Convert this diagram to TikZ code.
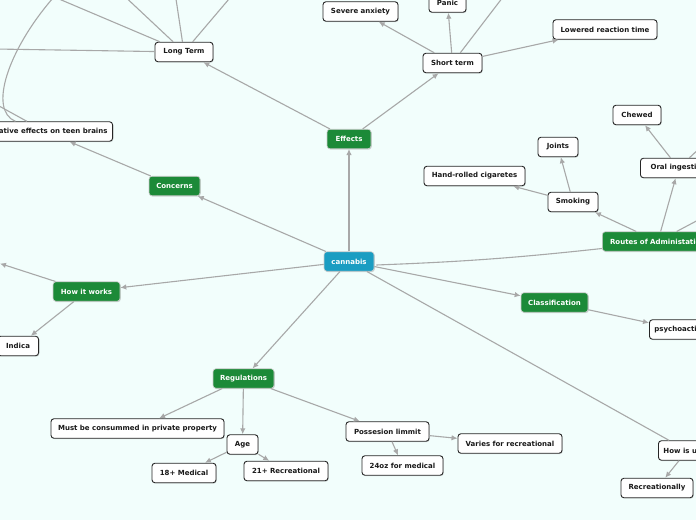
\documentclass[tikz,border=0pt]{standalone}
\usepackage{fontspec}
\setmainfont{DejaVu Sans}
\usetikzlibrary{arrows.meta,shadows,calc}
\definecolor{bg}{HTML}{F2FEFC}
\definecolor{mmgreen}{HTML}{1C8A38}
\definecolor{mmteal}{HTML}{1A9DC2}
\definecolor{edgegray}{HTML}{A8A8A8}
\begin{document}
\begin{tikzpicture}[x=1pt,y=-1pt,
 base/.style={rounded corners=3pt, minimum height=19.5pt, inner xsep=5pt, inner ysep=0pt,
   font=\bfseries\fontsize{7}{8}\selectfont,
   drop shadow={shadow xshift=0.8pt, shadow yshift=-0.9pt, opacity=0.3}},
 leaf/.style={base, draw=black!85, line width=0.9pt, fill=white, text=black!90},
 topic/.style={base, draw=white!80!black, line width=0.6pt, fill=mmgreen, text=white},
 rootnode/.style={base, draw=white!80!black, line width=0.6pt, fill=mmteal, text=white},
 conn/.style={draw=edgegray, line width=1.1pt},
 arr/.style={conn, -{Latex[length=6pt,width=5.5pt]}},
]
\fill[bg] (0,0) rectangle (696,520);
\clip (0,0) rectangle (696,520);

% root and main topics
\node[rootnode, minimum width=50pt] (cannabis) at (349,261.5) {cannabis};
\node[topic, minimum width=44pt] (effects) at (349,139) {Effects};
\node[topic, minimum width=51pt] (concerns) at (174.5,186) {Concerns};
\node[topic, minimum width=67pt] (howworks) at (86.5,291.5) {How it works};
\node[topic, minimum width=61pt] (regs) at (243.5,378.5) {Regulations};
\node[topic, minimum width=67pt] (classif) at (554.5,302.5) {Classification};
\node[topic, anchor=west, minimum width=111pt] (routes) at (602,241.5) {Routes of Administation};

% effects
\node[leaf, minimum width=59pt] (shortterm) at (452.5,63) {Short term};
\node[leaf, minimum width=58pt] (longterm) at (184,52) {Long Term};
\node[leaf, minimum width=75pt] (severe) at (360.5,11.5) {Severe anxiety};
\node[leaf, minimum width=37pt] (panic) at (447.5,2.5) {Panic};
\node[leaf, minimum width=104pt] (lowered) at (605,29.5) {Lowered reaction time};

% concerns
\node[leaf, anchor=east] (negfx) at (113,131.5) {Negative effects on teen brains};

% routes
\node[leaf, minimum width=50pt] (smoking) at (573,202) {Smoking};
\node[leaf, minimum width=40pt] (joints) at (558,147) {Joints};
\node[leaf, minimum width=101pt] (handrolled) at (474.5,176) {Hand-rolled cigaretes};
\node[leaf, anchor=west, minimum width=76pt] (oral) at (640,168) {Oral ingestion};
\node[leaf, minimum width=48pt] (chewed) at (637,115) {Chewed};

% classification
\node[leaf, anchor=west] (psycho) at (649,329.5) {psychoactive};

% how it works
\node[leaf, anchor=east, minimum width=41pt] (indica) at (39,346) {Indica};

% how is used
\node[leaf, anchor=west] (howused) at (658,450.5) {How is used};
\node[leaf, minimum width=72pt] (recre) at (657,488) {Recreationally};

% regulations
\node[leaf, minimum width=173pt] (must) at (137.5,428.5) {Must be consummed in private property};
\node[leaf, minimum width=31pt] (age) at (242.5,444.5) {Age};
\node[leaf, minimum width=64pt] (med18) at (184,473) {18+ Medical};
\node[leaf, minimum width=84pt] (rec21) at (286,471) {21+ Recreational};
\node[leaf, minimum width=83pt] (poss) at (387.5,431.5) {Possesion limmit};
\node[leaf, minimum width=81pt] (oz24) at (402.5,465.5) {24oz for medical};
\node[leaf, minimum width=104pt] (varies) at (510,443.5) {Varies for recreational};

% free ends of connectors leaving the frame
\coordinate (lt1) at (59,-1);
\coordinate (lt2) at (127.5,-1);
\coordinate (lt3) at (176,-1);
\coordinate (lt4) at (229,-1);
\coordinate (lt5) at (-5,49);
\coordinate (st1) at (503,-3);
\coordinate (hw1) at (0,263.5);
\coordinate (ro1) at (702,218);
\coordinate (or1) at (702,146);
\coordinate (ng1) at (-10,101);
\coordinate (cv1) at (53,-2);
\coordinate (cvend) at ($(negfx.north)+(-30,0)$);

% connectors
\draw[arr] (cannabis) -- (effects);
\draw[arr] (cannabis) -- (concerns);
\draw[arr] (cannabis) -- (howworks);
\draw[arr] (cannabis) -- (regs);
\draw[arr] (cannabis) -- (classif);
\draw[conn] ($(cannabis.east)+(2,3.5)$) to[bend right=2] ($(routes.west)+(0,7)$);
\draw[conn] (cannabis) -- (howused);

\draw[arr] (effects) -- (longterm);
\draw[arr] (effects) -- (shortterm);
\draw[arr] (shortterm) -- (severe);
\draw[arr] (shortterm) -- (panic);
\draw[conn] (shortterm) -- (st1);
\draw[arr] (shortterm) -- (lowered);

\draw[conn] (longterm) -- (lt1);
\draw[conn] (longterm) -- (lt2);
\draw[conn] (longterm) -- (lt3);
\draw[conn] (longterm) -- (lt4);
\draw[conn] (longterm) -- (lt5);

\draw[arr] (concerns) -- (negfx);
\draw[conn] (negfx) -- (ng1);
\draw[conn] (cvend) .. controls (-12,110) and (8,50) .. (cv1);

\draw[arr] (howworks) -- (hw1);
\draw[arr] (howworks) -- (indica);

\draw[arr] (regs) -- (must);
\draw[arr] (regs) -- (age);
\draw[arr] (regs) -- (poss);
\draw[arr] (age) -- (med18);
\draw[arr] (age) -- (rec21);
\draw[arr] (poss) -- (oz24);
\draw[arr] (poss) -- (varies);

\draw[arr] (classif) -- (psycho);
\draw[arr] (howused) -- (recre);

\draw[arr] (routes) -- (smoking);
\draw[arr] (routes) -- (oral);
\draw[conn] (routes) -- (ro1);
\draw[arr] (oral) -- (chewed);
\draw[conn] (oral) -- (or1);
\draw[arr] (smoking) -- (handrolled);
\draw[arr] (smoking) -- (joints);
\end{tikzpicture}
\end{document}
